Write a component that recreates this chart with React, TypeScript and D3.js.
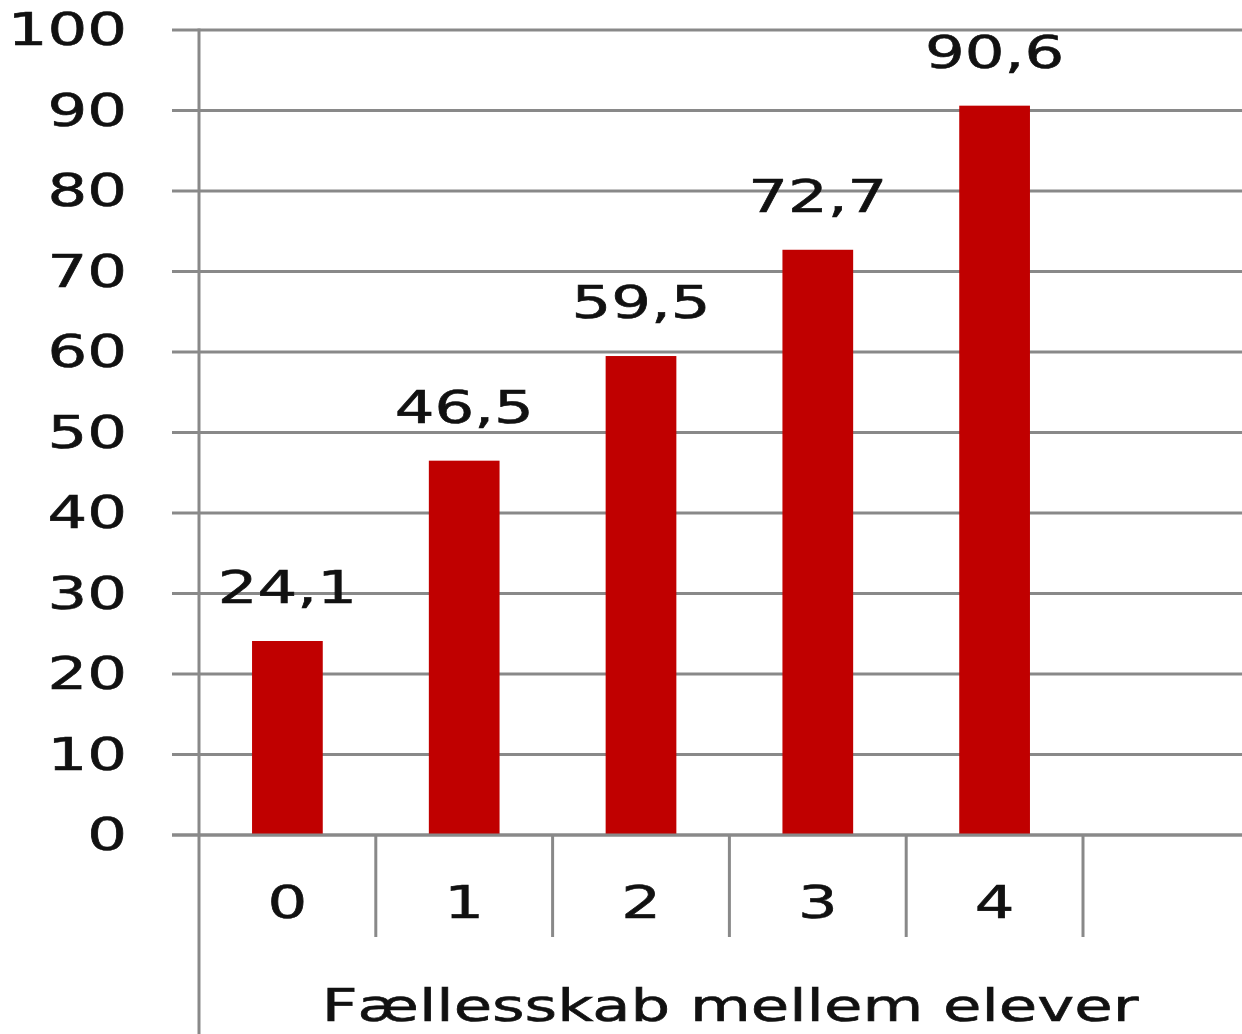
import React from 'react';
import * as d3 from 'd3';

const categories = ['0', '1', '2', '3', '4'];
const values = [24.1, 46.5, 59.5, 72.7, 90.6];
const valueLabels = ['24,1', '46,5', '59,5', '72,7', '90,6'];
const yTicks = [0, 10, 20, 30, 40, 50, 60, 70, 80, 90, 100];
const axisTitle = 'Fællesskab mellem elever';

const W = 1242;
const H = 1034;
const FONT = '"DejaVu Sans", Verdana, sans-serif';
const SX = 1.42; // the original picture is stretched sideways
const GRID = '#898989';
const BAR = '#c00000';

// text stretched horizontally around its anchor point
const Stretched = ({ x, y, anchor, size, children }: any) => (
  <g transform={`translate(${x},${y}) scale(${SX},1)`}>
    <text
      x={0}
      y={0}
      textAnchor={anchor}
      fontFamily={FONT}
      fontSize={size}
      fill="#111"
      stroke="#111"
      strokeWidth={0.6}
    >
      {children}
    </text>
  </g>
);

const App = () => {
  const left = 199;
  const right = 1083;
  const y = d3.scaleLinear().domain([0, 100]).range([835, 30]);
  const x = d3.scaleBand().domain(categories).range([left, right]).paddingInner(0).paddingOuter(0);
  const barW = x.bandwidth() * 0.4;
  const boundaries = [...categories.map((c) => x(c) as number), right];

  return (
    <svg width={W} height={H} style={{ position: 'absolute', left: 0, top: 0, background: '#fff' }}>
      {/* horizontal gridlines */}
      {yTicks.map((t) => (
        <line key={t} x1={172} x2={W} y1={y(t)} y2={y(t)} stroke={GRID} strokeWidth={3} />
      ))}
      {/* y tick labels */}
      {yTicks.map((t) => (
        <Stretched key={'l' + t} x={127} y={y(t) + 15} anchor="end" size={44}>
          {String(t)}
        </Stretched>
      ))}
      {/* bars */}
      {values.map((v, i) => {
        const cx = (x(categories[i]) as number) + x.bandwidth() / 2;
        return (
          <rect key={i} x={cx - barW / 2} y={y(v)} width={barW} height={y(0) - y(v)} fill={BAR} />
        );
      })}
      {/* axis lines drawn over bars */}
      <line x1={172} x2={W} y1={y(0)} y2={y(0)} stroke={GRID} strokeWidth={3} />
      <line x1={left} x2={left} y1={y(100) - 1.5} y2={H} stroke={GRID} strokeWidth={3} />
      {boundaries.slice(1).map((bx, i) => (
        <line key={'b' + i} x1={bx} x2={bx} y1={y(0)} y2={937} stroke={GRID} strokeWidth={3} />
      ))}
      {/* data labels */}
      {values.map((v, i) => {
        const cx = (x(categories[i]) as number) + x.bandwidth() / 2;
        return (
          <Stretched key={'v' + i} x={cx} y={y(v) - 38} anchor="middle" size={44}>
            {valueLabels[i]}
          </Stretched>
        );
      })}
      {/* category labels */}
      {categories.map((c) => (
        <Stretched key={'c' + c} x={(x(c) as number) + x.bandwidth() / 2} y={918} anchor="middle" size={44}>
          {c}
        </Stretched>
      ))}
      <Stretched x={730} y={1021} anchor="middle" size={44}>
        {axisTitle}
      </Stretched>
    </svg>
  );
};

export default App;
